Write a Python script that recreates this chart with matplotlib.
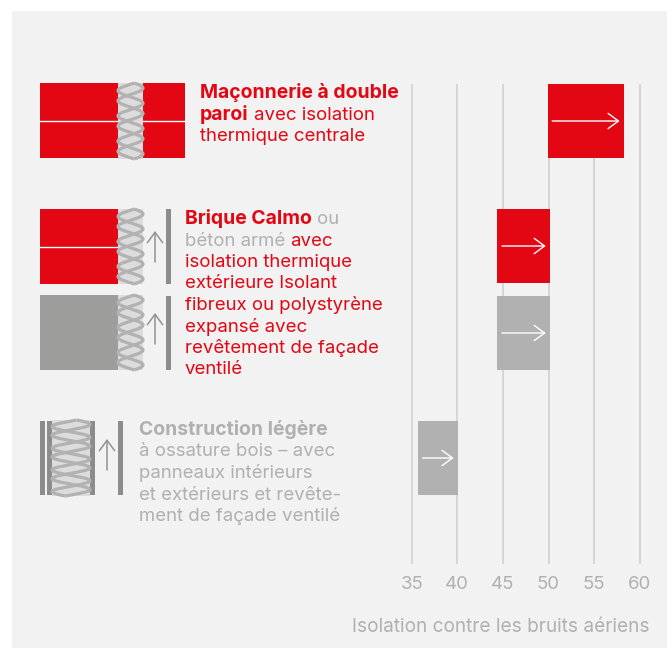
from __future__ import annotations

import numpy as np
import matplotlib
matplotlib.use("Agg")
import matplotlib.pyplot as plt
from matplotlib.patches import Rectangle

RED = "#e30613"
GREY_TEXT = "#b0b0b0"
BAR_GREY = "#b1b1b1"
CONCRETE = "#9d9d9c"
LAYER = "#8c8c8c"
BG = "#f2f2f2"
GRID = "#cdcdcd"
FONT = "Inter"
TEXT_SIZE = 13.4
BOLD_SIZE = 13.95

ticks = [35, 40, 45, 50, 55, 60]
axis_label = "Isolation contre les bruits aériens"
bar_start = [49.9, 44.4, 44.4, 35.7]
bar_end = [58.3, 50.2, 50.2, 40.1]
bar_color = [RED, RED, BAR_GREY, BAR_GREY]
bar_top = [84, 209, 296, 421]
bar_height = 74

block_1 = [
    [("Maçonnerie à double", RED, True)],
    [("paroi", RED, True), (" avec isolation", RED, False)],
    [("thermique centrale", RED, False)],
]
block_2 = [
    [("Brique Calmo", RED, True), (" ou", GREY_TEXT, False)],
    [("béton armé", GREY_TEXT, False), (" avec", RED, False)],
    [("isolation thermique", RED, False)],
    [("extérieure Isolant", RED, False)],
    [("fibreux ou polystyrène", RED, False)],
    [("expansé avec", RED, False)],
    [("revêtement de façade", RED, False)],
    [("ventilé", RED, False)],
]
block_3 = [
    [("Construction légère", GREY_TEXT, True)],
    [("à ossature bois – avec", GREY_TEXT, False)],
    [("panneaux intérieurs", GREY_TEXT, False)],
    [("et extérieurs et revête-", GREY_TEXT, False)],
    [("ment de façade ventilé", GREY_TEXT, False)],
]


def draw_block(ax, renderer, x, y, lines, leading=21.5):
    for i, line in enumerate(lines):
        cursor = x
        for text, color, bold in line:
            # leading spaces are dropped from the extent, so shift by hand
            if text.startswith(" "):
                cursor += 5
            t = ax.text(cursor, y + i * leading, text.strip(), color=color,
                        fontsize=BOLD_SIZE if bold else TEXT_SIZE,
                        family=FONT, weight="bold" if bold else "normal",
                        va="baseline", ha="left")
            cursor += t.get_window_extent(renderer).width


def insulation(ax, x0, x1, y0, y1, loops):
    ax.add_patch(Rectangle((x0, y0), x1 - x0, y1 - y0, fc="#dcdcdc", ec="none", zorder=2))
    y = np.linspace(y0, y1, 400)
    xm = (x0 + x1) / 2
    amp = (x1 - x0) / 2
    phase = (y - y0) / (y1 - y0) * loops * np.pi
    for sign in (1, -1):
        # the small phase shift makes the lobes lean like in the drawing
        ax.plot(xm + sign * amp * np.sin(phase + sign * 0.3), y, color="#b2b2b2",
                lw=2.3, zorder=3, solid_capstyle="butt")


def wall_arrow(ax, x, y0, y1):
    ax.annotate("", xy=(x, y0), xytext=(x, y1),
                arrowprops=dict(arrowstyle="->,head_length=0.75,head_width=0.55",
                                color="#929292", lw=1.1, shrinkA=0, shrinkB=0), zorder=4)


fig = plt.figure(figsize=(6.72, 6.48), dpi=100, facecolor="white")
W, H = 672, 648

# pixel layer for the panel, wall icons and text
page = fig.add_axes([0, 0, 1, 1])
page.set_xlim(0, W)
page.set_ylim(H, 0)
page.axis("off")
page.add_patch(Rectangle((12, 11), 655, 637, fc=BG, ec="none"))

# red masonry double wall
page.add_patch(Rectangle((40, 83), 78, 75, fc=RED, ec="none"))
page.add_patch(Rectangle((143, 83), 42, 75, fc=RED, ec="none"))
page.plot([40, 118], [120.5, 120.5], color="white", lw=1)
page.plot([143, 185], [120.5, 120.5], color="white", lw=1)
insulation(page, 118, 143, 83, 159, 6)

# brick with external insulation
page.add_patch(Rectangle((40, 209), 78, 75, fc=RED, ec="none"))
page.plot([40, 118], [246.5, 246.5], color="white", lw=1)
insulation(page, 118, 143, 209, 284, 6)
wall_arrow(page, 155, 231, 262)
page.add_patch(Rectangle((166, 209), 5, 75, fc=LAYER, ec="none"))

# concrete with external insulation
page.add_patch(Rectangle((40, 295), 78, 75, fc=CONCRETE, ec="none"))
insulation(page, 118, 143, 295, 370, 6)
wall_arrow(page, 155, 313, 344)
page.add_patch(Rectangle((166, 296), 5, 74, fc=LAYER, ec="none"))

# light timber frame
page.add_patch(Rectangle((40, 421), 5, 74, fc=LAYER, ec="none"))
page.add_patch(Rectangle((47, 421), 5, 74, fc=LAYER, ec="none"))
insulation(page, 52, 90, 420, 496, 7)
page.add_patch(Rectangle((90, 421), 5, 74, fc=LAYER, ec="none"))
wall_arrow(page, 107, 439, 470)
page.add_patch(Rectangle((118, 421), 5, 74, fc=LAYER, ec="none"))

renderer = fig.canvas.get_renderer()
draw_block(page, renderer, 200, 98, block_1)
draw_block(page, renderer, 185, 224, block_2)
draw_block(page, renderer, 139, 435, block_3)

# chart axes: x in dB, y in pixels from the top of the page
x_px = lambda v: 411.7 + (v - 35) * 45.6 / 5
ax = fig.add_axes([x_px(35) / W, 0, (x_px(60) - x_px(35)) / W, 1])
ax.set_xlim(35, 60)
ax.set_ylim(H, 0)
ax.patch.set_visible(False)
for s in ax.spines.values():
    s.set_visible(False)
ax.set_yticks([])
ax.set_xticks([])
for v in ticks:
    ax.plot([v, v], [84, 564], color=GRID, lw=1.1, zorder=1, solid_capstyle="butt", clip_on=False)
    ax.text(v, 589, str(v), color=GREY_TEXT, fontsize=TEXT_SIZE, family=FONT,
            ha="center", va="baseline")

for start, end, color, top in zip(bar_start, bar_end, bar_color, bar_top):
    ax.barh(top + bar_height / 2, end - start, left=start, height=bar_height,
            color=color, zorder=2)
    ax.annotate("", xy=(end - 0.5, top + 37), xytext=(start + 0.5, top + 37),
                arrowprops=dict(arrowstyle="->,head_length=0.75,head_width=0.55",
                                color="white", lw=1.0, shrinkA=0, shrinkB=0), zorder=3)

page.text(649, 632, axis_label, color=GREY_TEXT, fontsize=13.65, family=FONT,
          ha="right", va="baseline")

fig.savefig("out.png", dpi=100)
